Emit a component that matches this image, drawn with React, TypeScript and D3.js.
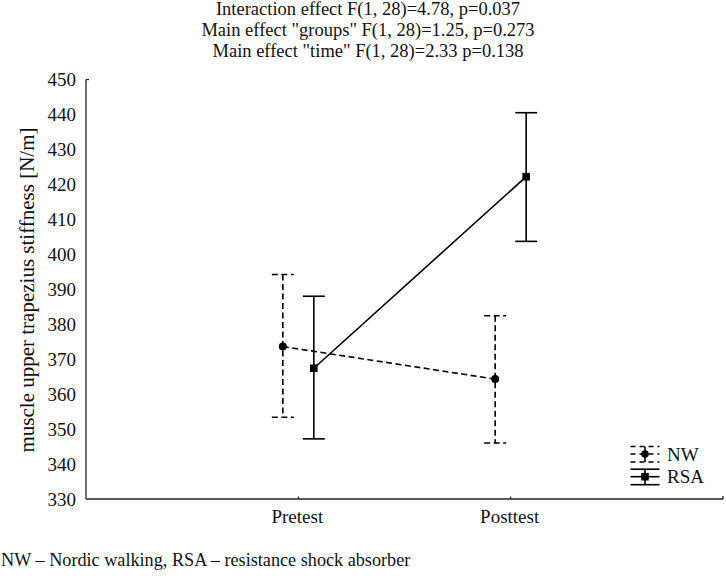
import React from "react";
import * as d3 from "d3";

const categories = ["Pretest", "Posttest"];
const groups = ["NW", "RSA"];
const nwMean = [373.6, 364.3];
const nwUpper = [394.2, 382.4];
const nwLower = [353.4, 346.0];
const rsaMean = [367.4, 422.2];
const rsaUpper = [388.0, 440.5];
const rsaLower = [347.2, 403.7];
const yTicks = [330, 340, 350, 360, 370, 380, 390, 400, 410, 420, 430, 440, 450];
const titleLines = [
  "Interaction effect F(1, 28)=4.78, p=0.037",
  'Main effect "groups" F(1, 28)=1.25, p=0.273',
  'Main effect "time" F(1, 28)=2.33 p=0.138',
];
const yLabel = "muscle upper trapezius stiffness [N/m]";
const footnote = "NW – Nordic walking, RSA – resistance shock absorber";

const W = 726;
const H = 576;
const FONT = "'Liberation Serif', 'Times New Roman', serif";

export default function App() {
  const left = 86, right = 723, top = 79.5, bottom = 499;
  const x = d3.scalePoint<string>().domain(categories).range([left, right]).padding(1);
  const y = d3.scaleLinear().domain([330, 450]).range([bottom, top]);
  const off = 15.5;
  const dash = "6,3.5";
  const series = [
    { name: groups[0], mean: nwMean, up: nwUpper, lo: nwLower, dx: -off, dash, marker: "circle" },
    { name: groups[1], mean: rsaMean, up: rsaUpper, lo: rsaLower, dx: off, dash: undefined, marker: "square" },
  ];
  const line = d3
    .line<number>()
    .x((_, i) => (x(categories[i]) as number))
    .y((d) => y(d));
  const capW = 11;
  return (
    <svg width={W} height={H} style={{ position: "absolute", left: 0, top: 0, background: "#fff" }} fontFamily={FONT}>
      <rect width={W} height={H} fill="#fff" />
      {titleLines.map((t, i) => (
        <text key={i} x={368} y={15 + i * 21} textAnchor="middle" fontSize={18.5} fill="#111">
          {t}
        </text>
      ))}
      {/* axes */}
      <line x1={left} x2={left} y1={top} y2={bottom} stroke="#222" strokeWidth={1.3} />
      <line x1={left} x2={right} y1={bottom} y2={bottom} stroke="#222" strokeWidth={1.3} />
      <line x1={left} x2={left + 3} y1={top} y2={top} stroke="#222" strokeWidth={1.3} />
      <line x1={right} x2={right} y1={bottom} y2={bottom - 3} stroke="#222" strokeWidth={1.3} />
      {yTicks.map((t) => (
        <text key={t} x={76} y={y(t)} dy="0.35em" textAnchor="end" fontSize={19} fill="#111">
          {t}
        </text>
      ))}
      {categories.map((c) => (
        <g key={c}>
          <line x1={x(c)} x2={x(c)} y1={bottom} y2={bottom - 2.5} stroke="#222" strokeWidth={1.2} />
          <text x={(x(c) as number) - 1} y={523} textAnchor="middle" fontSize={19} fill="#111">
            {c}
          </text>
        </g>
      ))}
      <text
        transform={`translate(34,290) rotate(-90)`}
        textAnchor="middle"
        fontSize={21}
        fill="#111"
      >
        {yLabel}
      </text>
      {/* series */}
      {series.map((s) => (
        <g key={s.name} transform={`translate(${s.dx},0)`} stroke="#000" strokeWidth={1.6} fill="none">
          <path d={line(s.mean) as string} strokeDasharray={s.dash} />
          {categories.map((c, i) => {
            const cx = x(c) as number;
            return (
              <g key={c}>
                <line x1={cx} x2={cx} y1={y(s.up[i])} y2={y(s.lo[i])} strokeDasharray={s.dash} />
                <line x1={cx - capW} x2={cx + capW} y1={y(s.up[i])} y2={y(s.up[i])} strokeDasharray={s.dash} />
                <line x1={cx - capW} x2={cx + capW} y1={y(s.lo[i])} y2={y(s.lo[i])} strokeDasharray={s.dash} />
                {s.marker === "circle" ? (
                  <circle cx={cx} cy={y(s.mean[i])} r={4} fill="#000" stroke="none" />
                ) : (
                  <rect x={cx - 3.8} y={y(s.mean[i]) - 3.8} width={7.6} height={7.6} fill="#000" stroke="none" />
                )}
              </g>
            );
          })}
        </g>
      ))}
      {/* legend */}
      {series.map((s, k) => {
        const cy = 454 + k * 22.7;
        const cx = 645;
        const hw = 14.5;
        return (
          <g key={s.name}>
            <g stroke="#000" strokeWidth={1.6}>
              <line x1={cx - hw} x2={cx + hw} y1={cy - 7.5} y2={cy - 7.5} strokeDasharray={s.dash ? "5,4" : undefined} />
              <line x1={cx - hw} x2={cx + hw} y1={cy} y2={cy} strokeDasharray={s.dash ? "5,4" : undefined} />
              <line x1={cx - hw} x2={cx + hw} y1={cy + 8} y2={cy + 8} strokeDasharray={s.dash ? "5,4" : undefined} />
              <line x1={cx} x2={cx} y1={cy - 7.5} y2={cy + 8} />
            </g>
            {s.marker === "circle" ? (
              <circle cx={cx} cy={cy} r={3.8} fill="#000" />
            ) : (
              <rect x={cx - 3.8} y={cy - 3.8} width={7.6} height={7.6} fill="#000" />
            )}
            <text x={667} y={cy} dy="0.35em" fontSize={19} fill="#111">
              {s.name}
            </text>
          </g>
        );
      })}
      <text x={1} y={566} fontSize={18.2} fill="#111">
        {footnote}
      </text>
    </svg>
  );
}
